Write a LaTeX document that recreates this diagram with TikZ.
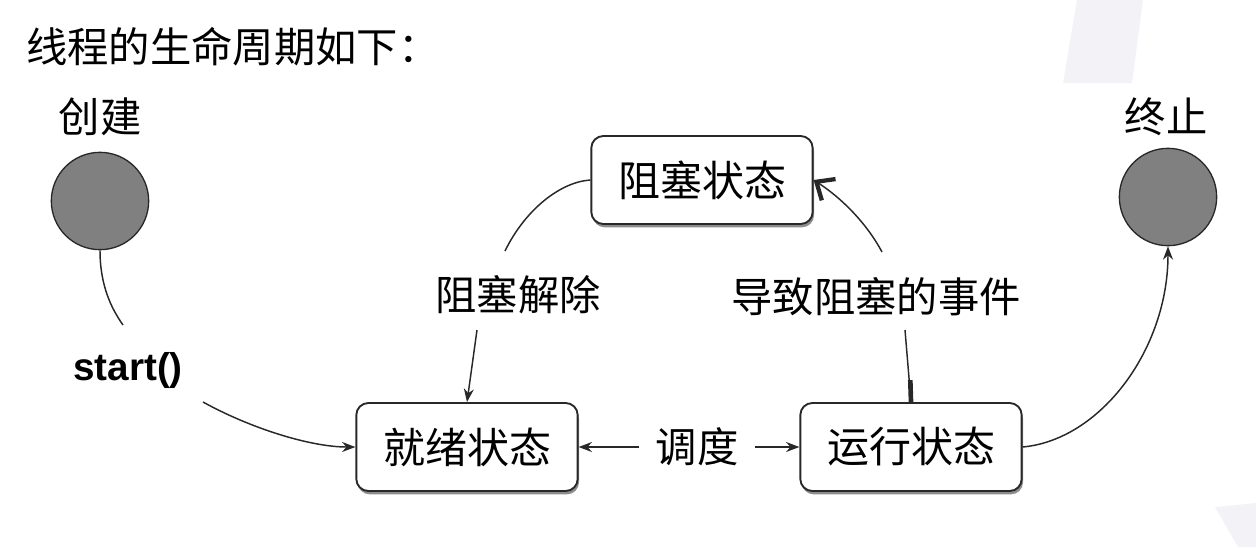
\documentclass[tikz,border=0pt]{standalone}
\usepackage{fontspec}
\setmainfont{Liberation Sans}
\newfontfamily\cjkfont{Noto Sans CJK SC}
\usepackage{tikz}
\usetikzlibrary{arrows.meta}
\usetikzlibrary{shadows}

\definecolor{discgray}{RGB}{128,128,128}
\definecolor{markgray}{RGB}{243,243,247}
\definecolor{edgegray}{RGB}{40,40,40}

\tikzset{
  statebox/.style={draw=edgegray, line width=1.4pt, rounded corners=9pt, fill=white,
    minimum width=166pt, minimum height=66pt, font=\cjkfont\fontsize{31.5}{31.5}\selectfont,
    drop shadow={shadow xshift=1pt, shadow yshift=-2.5pt, fill=black, opacity=0.45}},
  disc/.style={circle, draw=edgegray, line width=1pt, fill=discgray, minimum size=73pt, inner sep=0pt},
  lbl/.style={font=\cjkfont\fontsize{31}{31}\selectfont, inner sep=0.75pt},
  plain/.style={line width=1.1pt, draw=edgegray},
  flow/.style={plain, -{Stealth[length=10pt,width=7.5pt]}},
  boldtip/.style={plain, -{Straight Barb[length=11pt,width=19pt,line width=3.2pt 0]}},
}

\begin{document}
\begin{tikzpicture}[x=0.75pt,y=0.75pt,yscale=-1,xscale=1]
    \useasboundingbox (0,0) rectangle (1256,547);
    % faint marks in the background
    \fill [markgray] (1077,0) -- (1143,0) -- (1132,83) -- (1063,83) -- cycle;
    \fill [markgray] (1215,507) -- (1256,503) -- (1256,547) -- (1238,547) -- cycle;
    % title
    \draw (25,47) node [anchor=west] [inner sep=0.75pt] [font=\cjkfont\fontsize{31}{31}\selectfont] (title) {线程的生命周期如下：};
    % start and end
    \draw (100,117) node [lbl] (createlbl) {创建};
    \draw (100,201) node [disc] (create) {};
    \draw (1166,117) node [lbl] (termlbl) {终止};
    \draw (1168,197) node [disc] (term) {};
    % states
    \draw (702,180) node [statebox] (block) {阻塞状态};
    \draw (467,447) node [statebox] (ready) {就绪状态};
    \draw (911,447) node [statebox] (run) {运行状态};
    % labels
    \draw (128,370) node [inner sep=0.75pt] [font=\bfseries\fontsize{29}{29}\selectfont] (startlbl) {start()};
    \draw (518,295) node [lbl] (unblock) {阻塞解除};
    \draw (876,297) node [lbl] (cause) {导致阻塞的事件};
    \draw (697,447) node [lbl] [inner xsep=12pt] (sched) {调度};
    \coordinate (s1) at (123,325);
    \coordinate (s2) at (203,402);
    \coordinate (u1) at (505,251);
    \coordinate (u2) at (477,330);
    \coordinate (c1) at (905,330);
    \coordinate (c2) at (882,252);
    % connectors
    \draw [plain] (create) .. controls (100,285) and (111,308) .. (s1);
    \draw [flow] (s2) .. controls (250,428) and (310,447) .. (ready.west);
    \draw [plain] (block.west) .. controls (560,182) and (525,210) .. (u1);
    \draw [flow] (u2) -- (ready.north);
    \draw [plain] (run.north) -- (c1);
    \draw [line width=3.5pt, draw=edgegray] (run.north) -- ++(-0.7,-22);
    \draw [boldtip] (c2) .. controls (866,222) and (840,197) .. (block.east);
    \draw [flow] (sched.west) -- (ready.east);
    \draw [flow] (sched.east) -- (run.west);
    \draw [flow] (run.east) .. controls (1100,440) and (1168,350) .. (term.south);
\end{tikzpicture}
\end{document}
